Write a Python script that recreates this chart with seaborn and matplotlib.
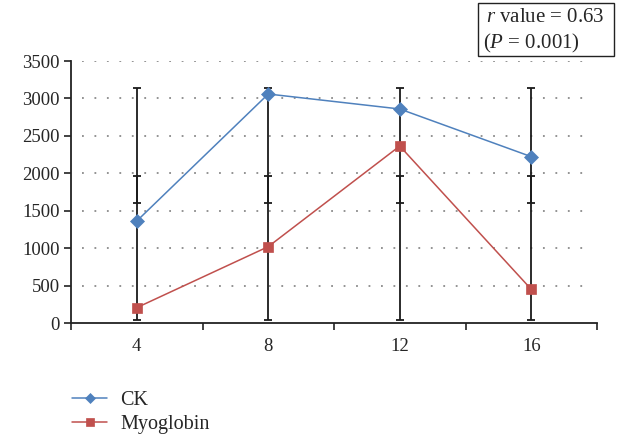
import matplotlib
matplotlib.use("Agg")
import matplotlib.pyplot as plt
from matplotlib.patches import Rectangle
import seaborn as sns
import pandas as pd

categories = ["4", "8", "12", "16"]
ck_values = [1362, 3059, 2859, 2222]
myo_values = [205, 1020, 2364, 450]
err_low_a = [40, 40, 40, 40]
err_high_a = [1968, 1968, 1968, 1968]
err_low_b = [1607, 1607, 1607, 1607]
err_high_b = [3140, 3140, 3140, 3140]
y_ticks = [0, 500, 1000, 1500, 2000, 2500, 3000, 3500]

sns.set_style("white")
plt.rcParams["font.family"] = ["Liberation Serif", "DejaVu Serif"]
plt.rcParams["mathtext.fontset"] = "custom"
plt.rcParams["mathtext.rm"] = "Liberation Serif"
plt.rcParams["mathtext.it"] = "Liberation Serif:italic"

df = pd.DataFrame({
    "week": categories * 2,
    "value": ck_values + myo_values,
    "series": ["CK"] * len(categories) + ["Myoglobin"] * len(categories),
})

W, H = 626, 436
fig = plt.figure(figsize=(W / 100, H / 100), dpi=100)
ax = fig.add_axes([71 / W, 1 - 323 / H, (597 - 71) / W, (323 - 61) / H])

# grid
for v in y_ticks[1:]:
    ax.axhline(v, xmin=0.02, xmax=0.985, color="#8a8a8a",
               linestyle=(0, (1, 5.9)), linewidth=1.3, zorder=0)

xpos = list(range(len(categories)))
for lo, hi in ((err_low_a, err_high_a), (err_low_b, err_high_b)):
    mid = [(a + b) / 2 for a, b in zip(lo, hi)]
    half = [(b - a) / 2 for a, b in zip(lo, hi)]
    ax.errorbar(xpos, mid, yerr=half, fmt="none", ecolor="#1a1a1a",
                elinewidth=1.3, capsize=2.6, capthick=1.3, zorder=2)

palette = {"CK": "#4F81BD", "Myoglobin": "#C0504D"}
sns.lineplot(data=df, x="week", y="value", hue="series", style="series",
             markers={"CK": "D", "Myoglobin": "s"}, dashes=False,
             palette=palette, linewidth=1.1, markersize=7,
             ax=ax, zorder=3, legend=True, sort=False)
for l in ax.get_lines():
    if l.get_marker() == "D":
        l.set_markersize(7)
        l.set_markeredgecolor("#4F81BD")
        l.set_markeredgewidth(0.5)
    elif l.get_marker() == "s":
        l.set_markersize(7.5)
        l.set_markeredgecolor("#C0504D")
        l.set_markeredgewidth(0.5)

handles, labels = ax.get_legend_handles_labels()
ax.get_legend().remove()
fig.legend(handles, labels, loc="upper left", bbox_to_anchor=(72 / W, 1 - 391 / H),
           frameon=False, fontsize=14.5, handlelength=1.75, handletextpad=0.65,
           labelspacing=0.25, borderpad=0, borderaxespad=0, markerscale=0.8)

ax.set_xlim(-0.5, 3.5)
ax.set_ylim(0, 3500)
ax.set_yticks(y_ticks)
ax.set_xticks(xpos)
ax.set_xticklabels(categories)
ax.set_xticks([-0.5, 0.5, 1.5, 2.5, 3.5], minor=True)
ax.set_xlabel("")
ax.set_ylabel("")
ax.tick_params(axis="x", which="major", length=0, pad=11, labelsize=13.5)
ax.tick_params(axis="x", which="minor", length=5, width=1.2, direction="out", bottom=True, color="#222222")
ax.tick_params(axis="y", length=5, width=1.2, direction="out", left=True, labelsize=13.5, pad=3, color="#222222")
sns.despine(ax=ax)
for s in ("left", "bottom"):
    ax.spines[s].set_color("#222222")
    ax.spines[s].set_linewidth(1.3)

fig.patches.append(Rectangle((478 / W, 1 - 56 / H), (614 - 478) / W, 53 / H,
                             transform=fig.transFigure, facecolor="white",
                             edgecolor="#222222", linewidth=1.0))
fig.text(486 / W, 1 - 18 / H, "$r$ value = 0.63", fontsize=15, va="center", ha="left")
fig.text(483 / W, 1 - 43 / H, "($P$ = 0.001)", fontsize=15, va="center", ha="left")

fig.savefig("out.png", dpi=100)
